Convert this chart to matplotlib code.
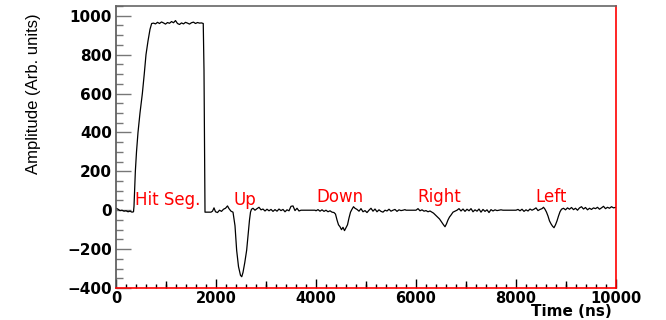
import matplotlib
matplotlib.use("Agg")
import matplotlib.pyplot as plt
from matplotlib.ticker import MultipleLocator, FixedLocator, NullFormatter

# ---- data ----
time_ns = [0, 40, 80, 120, 160, 200, 240, 280, 320, 350,
           360, 375, 387, 410, 440, 480, 527, 565, 600, 640, 680, 713,
           750, 790, 830, 870, 910, 950, 990, 1030, 1070, 1110, 1150, 1190, 1230, 1270,
           1310, 1350, 1390, 1430, 1470, 1510, 1550, 1590, 1630, 1670, 1710, 1745,
           1760, 1780, 1900, 1930, 1960, 1990, 2030, 2070, 2110, 2150, 2190, 2230, 2260, 2300,
           2340, 2380, 2413, 2450, 2490, 2515, 2540, 2575, 2613, 2645, 2670, 2690, 2710,
           2740, 2780, 2820, 2860, 2900, 2940, 2980, 3020, 3060, 3100, 3140, 3180, 3220, 3260,
           3300, 3340, 3380, 3420, 3460, 3500, 3540, 3580, 3620, 3660, 3700, 3980,
           4000, 4040, 4080, 4120, 4160, 4200, 4240, 4280, 4320, 4360, 4390, 4420, 4450, 4480,
           4510, 4540, 4570, 4600, 4630, 4660, 4690, 4720, 4750, 4780,
           4820, 4860, 4900, 4940, 4980, 5020, 5060, 5100, 5140, 5180, 5220, 5260, 5300, 5340,
           5380, 5420, 5460, 5500, 5540, 5580, 5620, 5660, 5700, 5740, 5780, 5800, 6000,
           6040, 6080, 6120, 6160, 6200, 6240, 6280, 6320, 6350, 6390, 6430, 6470, 6510, 6550,
           6580, 6610, 6640, 6670, 6700, 6740, 6780, 6820,
           6860, 6900, 6940, 6980, 7020, 7060, 7100, 7140, 7180, 7220, 7260, 7300, 7340, 7380,
           7420, 7460, 7500, 7540, 7580, 7620, 7660, 7700, 7740, 8000,
           8040, 8080, 8120, 8160, 8200, 8240, 8280, 8320, 8360, 8400, 8440, 8480, 8520, 8550,
           8580, 8610, 8640, 8670, 8700, 8730, 8760, 8790, 8820, 8850, 8880, 8910,
           8950, 8990, 9030, 9070, 9110, 9150, 9190, 9230, 9270, 9310, 9350, 9390, 9430, 9470,
           9510, 9550, 9590, 9630, 9670, 9710, 9750, 9790, 9830, 9870, 9910, 9950, 10000]

amplitude = [10, 5, -2, 0, -5, -3, -8, -5, -10, -8,
             20, 120, 200, 300, 400, 500, 600, 700, 800, 870, 930, 960,
             962, 958, 966, 960, 968, 963, 957, 965, 961, 970, 964, 975, 960, 955,
             963, 958, 966, 962, 957, 964, 967, 960, 965, 962, 963, 960,
             720, -10, -10, -5, 12, -8, -12, 0, -6, 5, 10, 22, 8, -5,
             -10, -80, -206, -290, -335, -342, -320, -270, -206, -120, -50, -10, 5,
             10, 0, 8, 15, 2, 6, -4, 5, -3, 4, -6, 3, -5, 6,
             -2, 4, -8, 2, -3, 20, 22, -2, 10, -4, 0, 0,
             -3, 3, -5, 2, -6, 0, -8, -3, -10, -12, -20, -50, -75, -85,
             -100, -88, -105, -90, -75, -40, -10, 5, 18, 10,
             4, -5, 8, -8, -2, -12, 0, 10, -5, 6, -8, 2, -6, -10,
             0, -4, 5, -5, 0, 4, -6, 2, -2, 0, 3, 0, 0,
             8, -3, 2, -5, -2, -8, -4, -10, -15, -25, -35, -45, -60, -75,
             -85, -70, -50, -35, -25, -10, -5, 0,
             8, -4, 6, -6, 5, -3, 8, -8, 2, -5, 6, -10, 4, -6,
             2, -12, 3, -4, 2, -2, 0, 2, 0, 0,
             4, -3, 5, -6, 2, -4, 6, 0, 5, 12, -2, 4, 8, 15,
             5, -10, -30, -55, -70, -82, -90, -75, -55, -30, -8, 5,
             10, 2, 12, 5, 14, 3, 10, 0, 12, 18, 6, 14, 2, 10,
             4, 12, 8, 15, 5, 12, 20, 8, 15, 10, 18, 12, 15]

label_texts = ["Hit Seg.", "Up", "Down", "Right", "Left"]
label_t = [380, 2347, 4000, 6030, 8393]
label_v = [26, 29, 43, 43, 43]

x_label = "Time (ns)"
y_label = "Amplitude (Arb. units)"

# ---- figure ----
fig = plt.figure(figsize=(6.66, 3.2), dpi=100)
ax = fig.add_axes([116/666, 32/320, 500/666, 282/320])

ax.plot(time_ns, amplitude, color="black", lw=0.9)

for txt, t, v in zip(label_texts, label_t, label_v):
    ax.text(t, v, txt, color="#ff0000", fontsize=12, family="DejaVu Sans",
            ha="left", va="baseline")

ax.set_xlim(0, 10000)
ax.set_ylim(-400, 1050)

ax.xaxis.set_major_locator(MultipleLocator(2000))
ax.xaxis.set_minor_locator(MultipleLocator(200))
ax.yaxis.set_major_locator(MultipleLocator(200))
ax.yaxis.set_minor_locator(MultipleLocator(50))

ax.tick_params(axis="x", which="major", direction="in", length=6.5, width=1,
               color="black", pad=2, top=False)
ax.tick_params(axis="x", which="minor", direction="in", length=3.2, width=1,
               color="black", top=False)
ax.tick_params(axis="y", which="major", direction="in", length=11, width=1,
               color="#777777", pad=3, right=False)
ax.tick_params(axis="y", which="minor", direction="in", length=5, width=1,
               color="#777777", right=False)

# medium ticks at odd thousands
sec = ax.secondary_xaxis("bottom")
sec.xaxis.set_major_locator(FixedLocator([1000, 3000, 5000, 7000, 9000]))
sec.xaxis.set_major_formatter(NullFormatter())
sec.tick_params(direction="in", length=5, width=1, color="black")
for s in sec.spines.values():
    s.set_visible(False)

for lab in ax.get_yticklabels():
    lab.set_family("DejaVu Sans")
    lab.set_fontweight("bold")
    lab.set_fontsize(11)
for lab in ax.get_xticklabels():
    lab.set_family("DejaVu Sans")
    lab.set_fontweight("bold")
    lab.set_fontsize(10.5)

ax.spines["left"].set_color("#555555")
ax.spines["top"].set_color("#666666")
ax.spines["right"].set_color("#ff0000")
ax.spines["bottom"].set_color("#ff0000")
for s in ax.spines.values():
    s.set_linewidth(1.2)

fig.text(612/666, 1 - 319/320, x_label, ha="right", va="bottom",
         fontsize=11, fontweight="bold", family="DejaVu Sans")
fig.text(34/666, 1 - 13/320, y_label, ha="center", va="top", rotation=90,
         fontsize=12, family="Liberation Sans")

fig.savefig("out.png", dpi=100)
